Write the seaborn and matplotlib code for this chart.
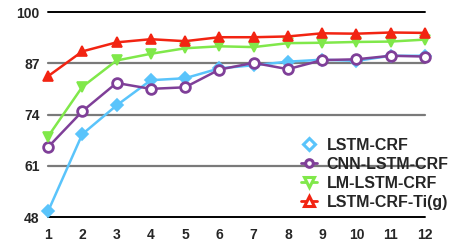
import matplotlib
matplotlib.use("Agg")
import matplotlib.pyplot as plt
import seaborn as sns
import pandas as pd
from matplotlib.lines import Line2D

epochs = list(range(1, 13))
lstm_crf = [49.4, 69.0, 76.3, 82.7, 83.2, 85.7, 86.5, 87.4, 87.9, 87.6, 88.9, 88.9]
cnn_lstm_crf = [65.7, 74.8, 82.0, 80.5, 80.9, 85.4, 87.1, 85.5, 87.8, 88.0, 88.9, 88.7]
lm_lstm_crf = [68.4, 81.0, 87.7, 89.4, 90.8, 91.3, 91.1, 92.1, 92.2, 92.4, 92.5, 93.0]
lstm_crf_ti = [83.7, 90.0, 92.3, 93.1, 92.6, 93.6, 93.6, 93.8, 94.6, 94.5, 94.8, 94.7]
series_names = ["LSTM-CRF", "CNN-LSTM-CRF", "LM-LSTM-CRF", "LSTM-CRF-Ti(g)"]
yticks = [48, 61, 74, 87, 100]

sns.set_theme(style="white")
plt.rcParams['font.family'] = ['Liberation Sans', 'DejaVu Sans']

fig = plt.figure(figsize=(4.56, 2.44), dpi=100)
ax = fig.add_axes([48/456, 1-217/244, (425-48)/456, (217-12)/244])

for y in yticks:
    col = "black" if y in (48, 100) else "#7a7a7a"
    ax.axhline(y, color=col, lw=1.4 if y in (48, 100) else 1.6, zorder=0)

colors = ["#5ac4fb", "#7f3f98", "#80e84a", "#f22412"]
markers = ["D", "o", "v", "^"]
data = [lstm_crf, cnn_lstm_crf, lm_lstm_crf, lstm_crf_ti]
for name, vals, c, m in zip(series_names, data, colors, markers):
    df = pd.DataFrame({"epoch": epochs, "value": vals})
    kw = dict(marker=m, markersize=7, markeredgecolor=c, markerfacecolor=c, markeredgewidth=1.2)
    if m == "o":
        kw.update(markerfacecolor="white", markeredgewidth=2, markersize=7)
    if m == "D":
        kw.update(markersize=6)
    sns.lineplot(data=df, x="epoch", y="value", color=c, lw=1.8, ax=ax, **kw, zorder=3)

ax.set_xlim(1, 12)
ax.set_ylim(48, 100)
ax.set_xticks(epochs)
ax.set_yticks(yticks)
ax.set_xlabel("")
ax.set_ylabel("")
for s in ax.spines.values():
    s.set_visible(False)
ax.tick_params(axis="both", length=0, labelsize=10)
ax.tick_params(axis="x", pad=8)
ax.tick_params(axis="y", pad=6)
for lab in ax.get_xticklabels() + ax.get_yticklabels():
    lab.set_fontweight("bold")
for line in ax.lines:
    line.set_clip_on(False)

handles = [
    Line2D([], [], color=colors[0], marker="D", markersize=6.5, markerfacecolor="white", markeredgewidth=2.2, lw=0),
    Line2D([], [], color=colors[1], marker="o", markersize=5.5, markerfacecolor="white", markeredgewidth=2.2, lw=2),
    Line2D([], [], color=colors[2], marker="v", markersize=6.5, markerfacecolor="white", markeredgewidth=2.2, lw=2),
    Line2D([], [], color=colors[3], marker="^", markersize=6.5, markerfacecolor="white", markeredgewidth=2.2, lw=2),
]
leg = fig.legend(handles, series_names, loc="lower right", bbox_to_anchor=(1.005, 0.10),
                 frameon=False, prop={"weight": "bold", "size": 11.5}, handlelength=1.0,
                 handletextpad=0.6, labelspacing=0.25, borderaxespad=0.2)

fig.savefig("out.png", dpi=100)
